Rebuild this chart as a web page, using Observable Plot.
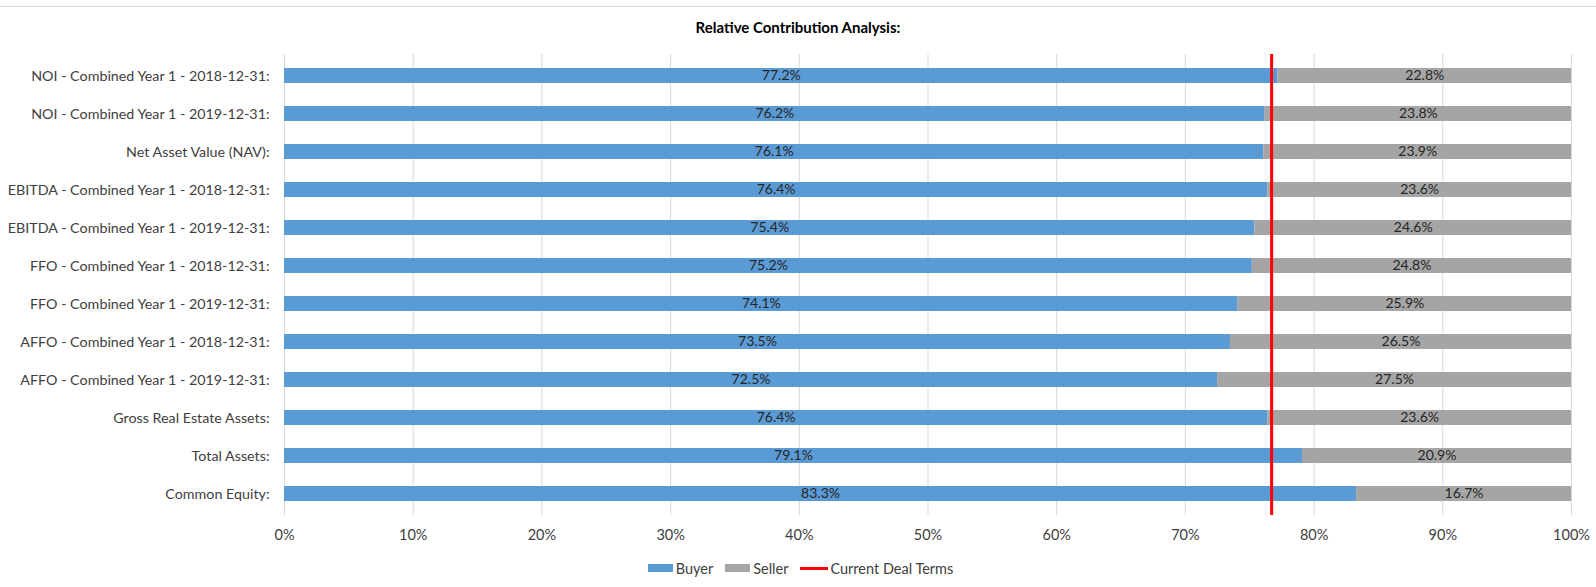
<!DOCTYPE html>
<html>
<head>
<meta charset="utf-8">
<script src="https://cdn.jsdelivr.net/npm/d3@7"></script>
<script src="https://cdn.jsdelivr.net/npm/@observablehq/plot@0.6"></script>
<style>
  html, body { margin: 0; padding: 0; background: #fff; }
  body { width: 1596px; height: 587px; overflow: hidden; font-family: Lato, "Noto Sans", sans-serif; }
  #top { height: 44px; position: relative; }
  #border { position: absolute; top: 6px; left: 0; width: 1596px; border-top: 1px solid #d9d9d9; }
  #title { position: absolute; top: 18px; left: 0; width: 1596px; text-align: center; font-weight: bold; font-size: 15px; color: #000; }
  #chart svg { display: block; }
  #legend { height: 34px; display: flex; justify-content: center; align-items: center; font-size: 14.5px; color: #404040; padding-left: 5px; }
  .item { display: flex; align-items: center; margin: 0 6px; }
  .sw { width: 25px; height: 8px; margin-right: 3px; }
  .ln { width: 28px; height: 3px; margin-right: 2px; background: #ff0000; }
</style>
</head>
<body>
<div id="top"><div id="border"></div><div id="title">Relative Contribution Analysis:</div></div>
<div id="chart"></div>
<div id="legend"></div>
<script>
const categories = [
  "NOI - Combined Year 1 - 2018-12-31:",
  "NOI - Combined Year 1 - 2019-12-31:",
  "Net Asset Value (NAV):",
  "EBITDA - Combined Year 1 - 2018-12-31:",
  "EBITDA - Combined Year 1 - 2019-12-31:",
  "FFO - Combined Year 1 - 2018-12-31:",
  "FFO - Combined Year 1 - 2019-12-31:",
  "AFFO - Combined Year 1 - 2018-12-31:",
  "AFFO - Combined Year 1 - 2019-12-31:",
  "Gross Real Estate Assets:",
  "Total Assets:",
  "Common Equity:"
];
const buyer  = [77.2, 76.2, 76.1, 76.4, 75.4, 75.2, 74.1, 73.5, 72.5, 76.4, 79.1, 83.3];
const seller = [22.8, 23.8, 23.9, 23.6, 24.6, 24.8, 25.9, 26.5, 27.5, 23.6, 20.9, 16.7];
const dealTerms = [76.7];
const series = ["Buyer", "Seller"];
const seriesColors = ["#5B9BD5", "#A5A5A5"];
const xTicks = [0, 10, 20, 30, 40, 50, 60, 70, 80, 90, 100];

const rows = categories.flatMap((c, i) => [
  {cat: c, party: "Buyer", v: buyer[i]},
  {cat: c, party: "Seller", v: seller[i]}
]);

const chart = Plot.plot({
  width: 1596,
  height: 507,
  marginLeft: 284,
  marginRight: 25,
  marginTop: 10,
  marginBottom: 36,
  style: {fontFamily: "Lato, 'Noto Sans', sans-serif", fontSize: "14px", color: "#404040", background: "#fff"},
  x: {domain: [0, 100], label: null},
  y: {domain: categories, paddingInner: 0.6, paddingOuter: 0.3, label: null},
  color: {domain: series, range: seriesColors},
  marks: [
    Plot.gridX(xTicks, {stroke: "#d9d9d9", strokeOpacity: 1, strokeWidth: 1}),
    Plot.barX(rows, Plot.stackX({x: "v", y: "cat", fill: "party"})),
    Plot.text(rows, Plot.stackX({x: "v", y: "cat", z: "party", text: d => d.v.toFixed(1) + "%", fill: "#262626", fontSize: 14})),
    Plot.ruleX(dealTerms, {stroke: "#ff0000", strokeWidth: 3}),
    Plot.axisX(xTicks, {tickSize: 0, tickPadding: 14, tickFormat: d => d + "%", fill: "#404040", fontSize: 14.5, label: null}),
    Plot.axisY({tickSize: 0, tickPadding: 15, fill: "#404040", fontSize: 14.3, label: null})
  ]
});
document.getElementById("chart").appendChild(chart);

const legend = document.getElementById("legend");
series.forEach((s, i) => {
  const it = document.createElement("div");
  it.className = "item";
  it.innerHTML = `<div class="sw" style="background:${seriesColors[i]}"></div><span>${s}</span>`;
  legend.appendChild(it);
});
const it = document.createElement("div");
it.className = "item";
it.innerHTML = `<div class="ln"></div><span>Current Deal Terms</span>`;
legend.appendChild(it);
</script>
</body>
</html>
